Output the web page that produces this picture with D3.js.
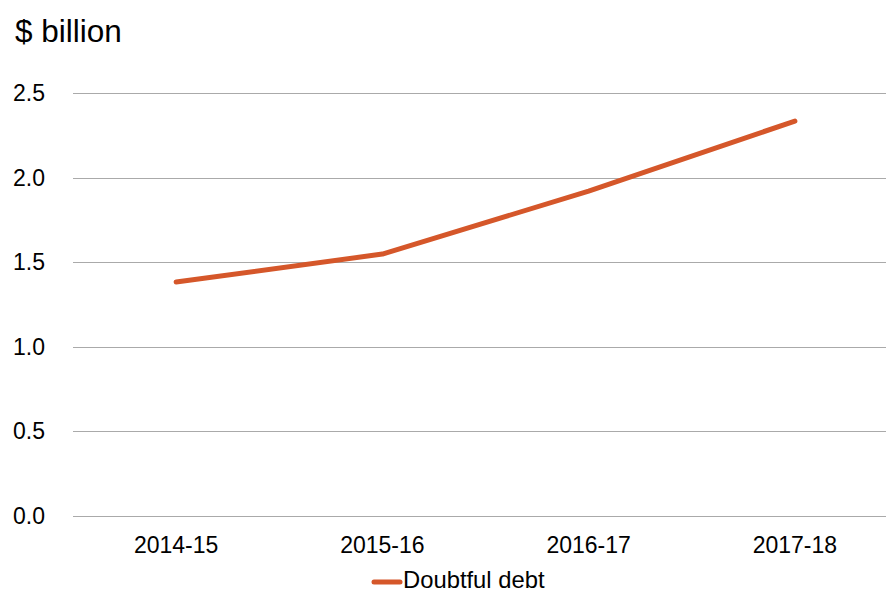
<html>
<head>
<script src="https://d3js.org/d3.v7.min.js"></script>
<style>
  body { margin: 0; background: #fff; }
  text { font-family: "Liberation Sans", Arial, sans-serif; fill: #000; }
</style>
</head>
<body>
<div id="chart"></div>
<script>
// data
const years = ["2014-15", "2015-16", "2016-17", "2017-18"];
const doubtfulDebt = [1.383, 1.548, 1.92, 2.334];
const yTicks = [0, 0.5, 1.0, 1.5, 2.0, 2.5];
const seriesName = "Doubtful debt";

const W = 886, H = 593;
const lineColor = "#d5572a";

const svg = d3.select("#chart").append("svg")
  .attr("width", W).attr("height", H);

const x = d3.scaleBand().domain(years).range([73, 898]);
const y = d3.scaleLinear().domain([0, 2.5]).range([516, 93]);

// title
svg.append("text")
  .attr("x", 15).attr("y", 42)
  .style("font-size", "31.5px")
  .text("$ billion");

// gridlines
svg.selectAll(".grid").data(yTicks).enter().append("line")
  .attr("x1", 73).attr("x2", W)
  .attr("y1", d => Math.round(y(d)) + 0.5)
  .attr("y2", d => Math.round(y(d)) + 0.5)
  .attr("stroke", "#aaaaaa").attr("stroke-width", 1);

// y labels
svg.selectAll(".ylab").data(yTicks).enter().append("text")
  .attr("x", 13).attr("y", d => y(d)).attr("dy", "0.35em")
  .style("font-size", "23px")
  .text(d => d3.format(".1f")(d));

// x labels
svg.selectAll(".xlab").data(years).enter().append("text")
  .attr("x", d => x(d) + x.bandwidth() / 2).attr("y", 553)
  .attr("text-anchor", "middle")
  .style("font-size", "23px")
  .text(d => d);

// the line
const line = d3.line()
  .x((d, i) => x(years[i]) + x.bandwidth() / 2)
  .y(d => y(d));

svg.append("path")
  .datum(doubtfulDebt)
  .attr("d", line)
  .attr("fill", "none")
  .attr("stroke", lineColor)
  .attr("stroke-width", 5)
  .attr("stroke-linecap", "round")
  .attr("stroke-linejoin", "round");

// legend
svg.append("line")
  .attr("x1", 374).attr("x2", 400).attr("y1", 582).attr("y2", 582)
  .attr("stroke", lineColor).attr("stroke-width", 5)
  .attr("stroke-linecap", "round");
svg.append("text")
  .attr("x", 403).attr("y", 588)
  .style("font-size", "23.8px")
  .text(seriesName);
</script>
</body>
</html>
